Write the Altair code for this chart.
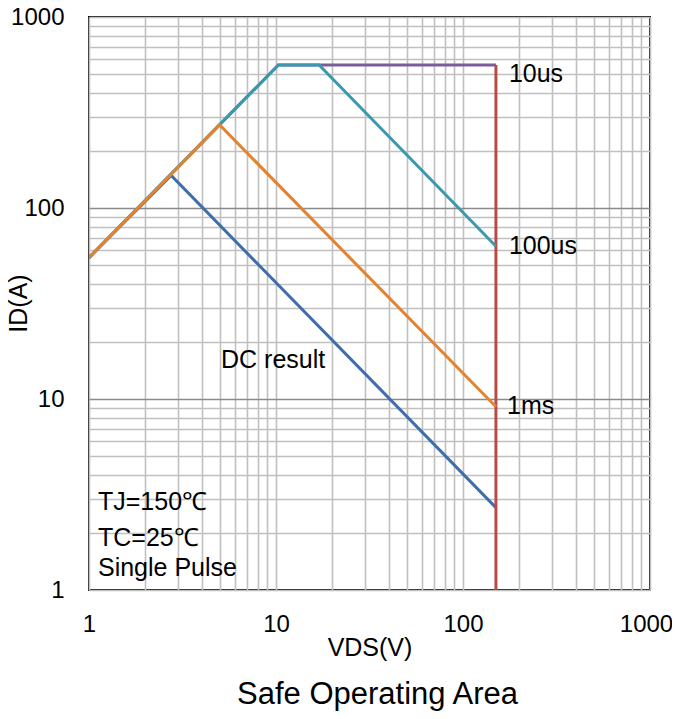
import altair as alt
import pandas as pd

# ---- data ----
dc_v = [1, 2.75, 150]
dc_i = [55, 148, 2.7]

ms1_v = [1, 5, 150]
ms1_i = [55, 272, 9.1]

us100_v = [1, 10.3, 17, 150]
us100_i = [55, 561, 561, 63]

us10_v = [1, 10.3, 150]
us10_i = [55, 561, 561]

limit_v = [150, 150]
limit_i = [561, 1]

series_names = ["DC", "10us", "limit", "100us", "1ms"]
series_v = [dc_v, us10_v, limit_v, us100_v, ms1_v]
series_i = [dc_i, us10_i, limit_i, us100_i, ms1_i]
series_colors = ["#3F6EAD", "#7D5C9C", "#B94B45", "#3B99AF", "#E3832F"]

label_text = ["10us", "100us", "1ms", "DC result", "TJ=150℃", "TC=25℃", "Single Pulse"]
label_v = [176, 176, 172, 5.08, 1.117, 1.117, 1.117]
label_i = [505, 63.2, 9.2, 16.0, 2.89, 1.87, 1.30]

grid_values = [m * 10 ** e for e in range(3) for m in range(1, 10)] + [1000]

FONT = "Liberation Sans"

xscale = alt.Scale(type="log", domain=[1, 1000], nice=False)
yscale = alt.Scale(type="log", domain=[1, 1000], nice=False)

label_expr = "(datum.value==1||datum.value==10||datum.value==100||datum.value==1000) ? format(datum.value,'d') : ''"

x_axis = alt.Axis(
    values=grid_values, labelExpr=label_expr, title="VDS(V)", ticks=False,
    domain=False, labelOverlap=False, labelFlush=False, labelPadding=22,
    labelBound=False,
    labelOffset={"condition": {"test": "datum.value==1000", "value": -4}, "value": 0},
    gridColor="#c0c0c0", gridWidth=1.6,
    titleY=57, titleBaseline="middle",
)
y_axis = alt.Axis(
    values=grid_values, labelExpr=label_expr, title="ID(A)", ticks=False,
    domain=False, labelOverlap=False, labelFlush=False, labelPadding=25,
    gridColor={"condition": {"test": "datum.value==10 || datum.value==100", "value": "#8a8a8a"}, "value": "#c0c0c0"},
    gridWidth=1.6,
    titleX=-58, titleY=286,
)

layers = []
for name, vs, is_, col in zip(series_names, series_v, series_i, series_colors):
    df = pd.DataFrame({"V": vs, "I": is_, "idx": list(range(len(vs))), "series": name})
    layers.append(
        alt.Chart(df).mark_line(color=col, strokeWidth=3, clip=True).encode(
            x=alt.X("V:Q", scale=xscale, axis=x_axis),
            y=alt.Y("I:Q", scale=yscale, axis=y_axis),
            order="idx:Q",
        )
    )

lab_df = pd.DataFrame({"V": label_v, "I": label_i, "text": label_text})
labels = alt.Chart(lab_df).mark_text(
    align="left", baseline="middle", font=FONT, fontSize=25, color="#000000"
).encode(
    x=alt.X("V:Q", scale=xscale, axis=x_axis),
    y=alt.Y("I:Q", scale=yscale, axis=y_axis),
    text="text:N",
)
layers.append(labels)

chart = alt.layer(*layers).properties(
    width=561,
    height=573,
    background="#ffffff",
    autosize=alt.AutoSizeParams(type="none"),
    padding={"left": 81, "top": 9, "right": 22, "bottom": 121},
    title=alt.TitleParams(
        "Safe Operating Area", orient="bottom", anchor="middle",
        font=FONT, fontSize=31, fontWeight="normal", color="#000000", offset=20, dx=8,
    ),
).configure_view(
    stroke="#111111", strokeWidth=2
).configure_axis(
    labelFont=FONT, labelFontSize=24, labelColor="#000000",
    titleFont=FONT, titleFontSize=25, titleFontWeight="normal", titleColor="#000000",
)

chart.save("out.html", embed_options={"renderer": "svg", "actions": False})
